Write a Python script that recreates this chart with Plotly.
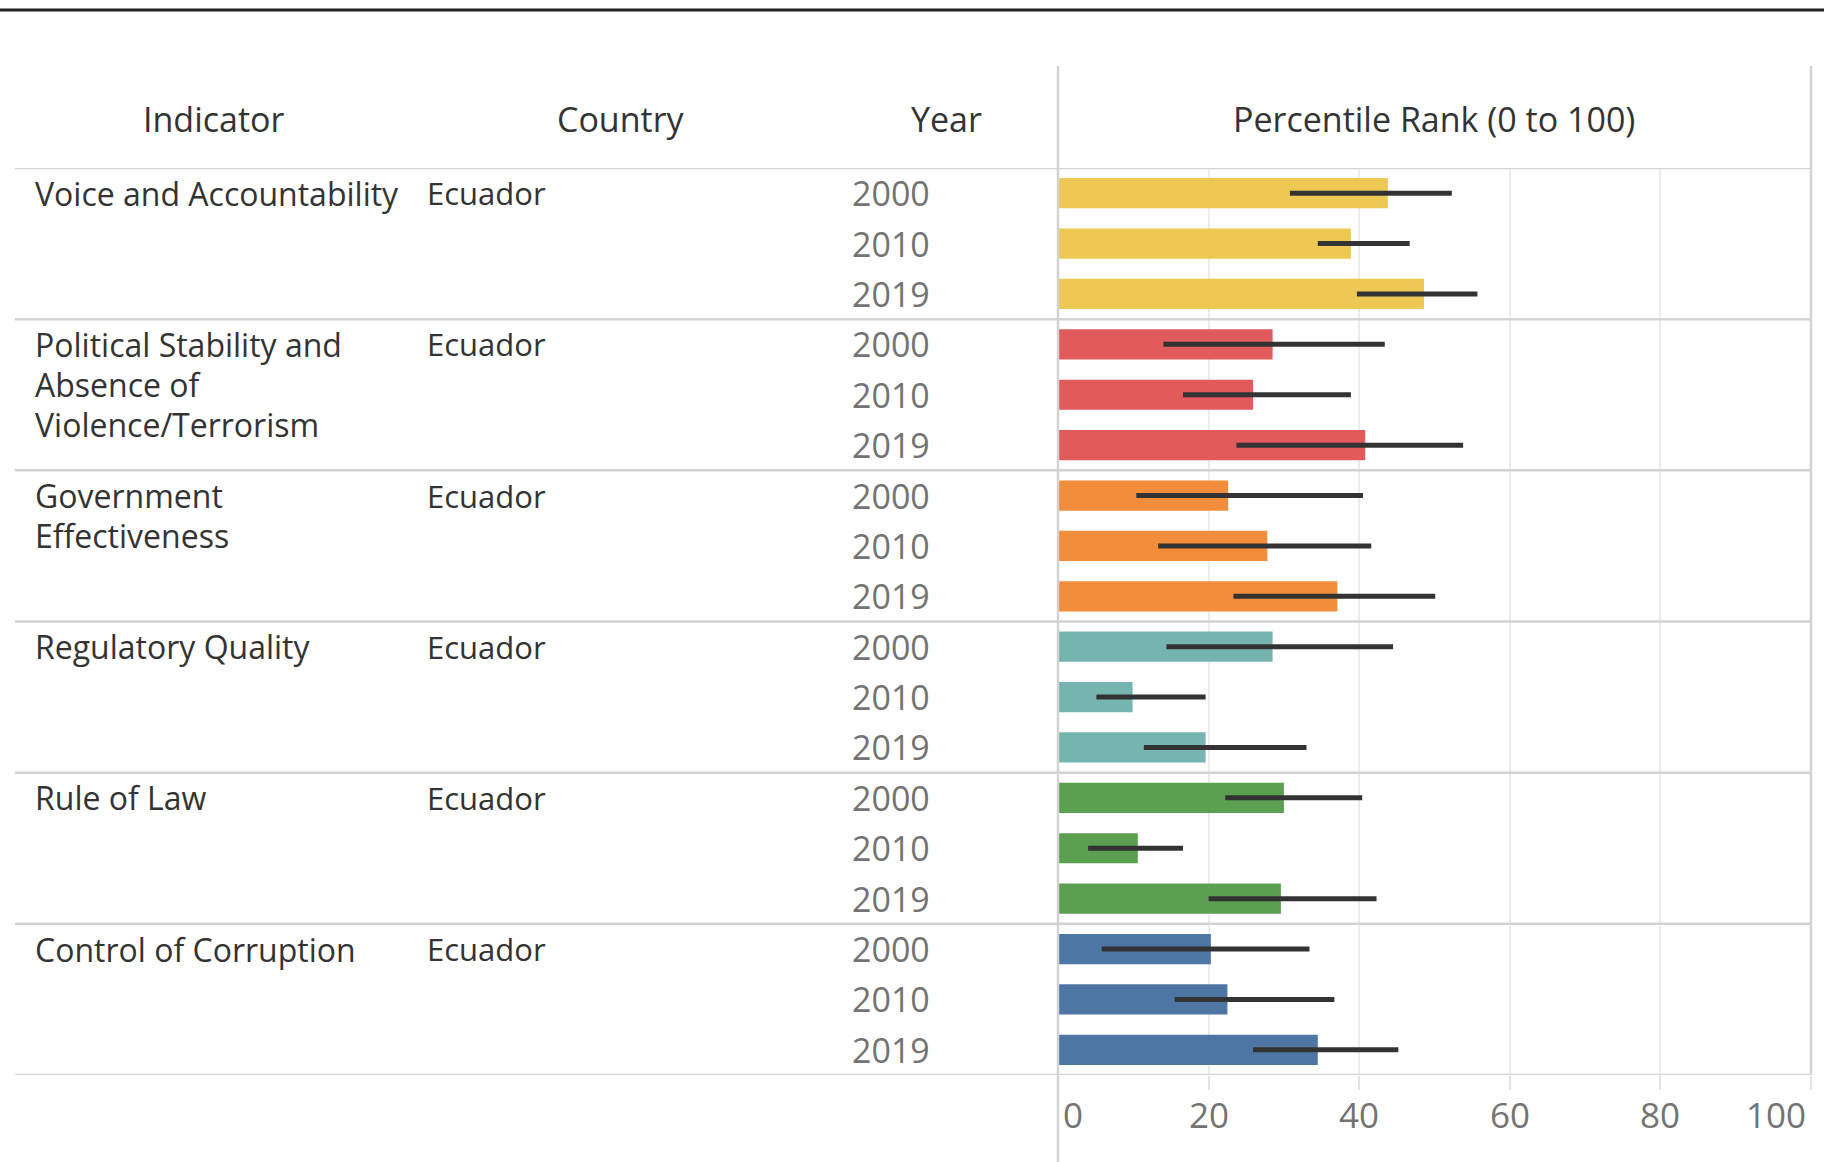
import plotly.graph_objects as go

W, H = 1824, 1162

indicators = [
    "Voice and Accountability",
    "Political Stability and<br>Absence of<br>Violence/Terrorism",
    "Government<br>Effectiveness",
    "Regulatory Quality",
    "Rule of Law",
    "Control of Corruption",
]
country = "Ecuador"
years = ["2000", "2010", "2019"]
colors = ["#EDC854", "#E15A5C", "#F28E3B", "#76B5AF", "#5AA050", "#4E76A5"]

# percentile rank and 90% interval bounds, per indicator x year
rank = [
    [43.8, 38.9, 48.6],
    [28.5, 25.9, 40.8],
    [22.6, 27.8, 37.1],
    [28.5, 9.9, 19.6],
    [30.0, 10.6, 29.6],
    [20.3, 22.5, 34.5],
]
lower = [
    [30.8, 34.5, 39.7],
    [14.0, 16.6, 23.7],
    [10.4, 13.3, 23.3],
    [14.4, 5.1, 11.4],
    [22.2, 4.0, 20.0],
    [5.8, 15.5, 25.9],
]
upper = [
    [52.3, 46.7, 55.7],
    [43.4, 38.9, 53.8],
    [40.5, 41.6, 50.1],
    [44.5, 19.6, 33.0],
    [40.4, 16.6, 42.3],
    [33.4, 36.7, 45.2],
]
tick_vals = [0, 20, 40, 60, 80, 100]

FONT = "Open Sans"
TXT = "#333333"
GREY = "#737373"
LINE = "#d3d3d3"

def px(x):
    return x / W

def py(y):
    return 1 - y / H

ys, xs, cols, ep, em = [], [], [], [], []
for g in range(len(indicators)):
    for k in range(len(years)):
        ys.append(g * 3 + k + 0.5)
        xs.append(rank[g][k])
        cols.append(colors[g])
        ep.append(upper[g][k] - rank[g][k])
        em.append(rank[g][k] - lower[g][k])

fig = go.Figure()
fig.add_trace(go.Bar(
    x=xs, y=ys, orientation="h", width=0.6,
    marker=dict(color=cols, line=dict(width=0)),
    error_x=dict(type="data", symmetric=False, array=ep, arrayminus=em,
                 color="#333333", thickness=5, width=0),
    hoverinfo="x",
))

x0, x1 = 1058, 1811
y0, y1 = 168, 1075
fig.update_layout(
    width=W, height=H, margin=dict(l=0, r=0, t=0, b=0),
    paper_bgcolor="white", plot_bgcolor="white", showlegend=False,
    font=dict(family=FONT, color=TXT),
    xaxis=dict(domain=[px(x0), px(x1)], range=[0, 100], tickvals=tick_vals,
               showticklabels=False, showgrid=True, gridcolor="#ececec", gridwidth=2,
               zeroline=False, ticks="outside", ticklen=14, tickcolor="#e4e4e4", tickwidth=2),
    yaxis=dict(domain=[py(y1), py(y0)], range=[18, 0], showticklabels=False,
               showgrid=False, zeroline=False),
)

shapes = []
# top black rule
shapes.append(dict(type="line", xref="paper", yref="paper", x0=0, x1=1, y0=py(10), y1=py(10),
                   line=dict(color="#222222", width=3)))
# horizontal separators
for r in range(0, 19, 3):
    shapes.append(dict(type="line", xref="paper", yref="y", x0=px(15), x1=px(x1), y0=r, y1=r,
                       line=dict(color=LINE, width=2.5)))
# vertical separator and right border
shapes.append(dict(type="line", xref="paper", yref="paper", x0=px(x0), x1=px(x0), y0=0, y1=py(66),
                   line=dict(color=LINE, width=2.5)))
shapes.append(dict(type="line", xref="paper", yref="paper", x0=px(x1), x1=px(x1), y0=py(y1), y1=py(66),
                   line=dict(color=LINE, width=2.5)))
fig.update_layout(shapes=shapes)

ann = []
hy = py(119)
for text, cx in [("Indicator", 213), ("Country", 621), ("Year", 946), ("Percentile Rank (0 to 100)", 1434)]:
    ann.append(dict(text=text, x=px(cx), y=hy, xref="paper", yref="paper", xanchor="center",
                    yanchor="middle", showarrow=False, font=dict(size=34, color=TXT)))
for g, name in enumerate(indicators):
    for i, line in enumerate(name.split("<br>")):
        ann.append(dict(text=line, x=px(33), y=g * 3 + 0.5 + i * 0.8, xref="paper", yref="y",
                        xanchor="left", yanchor="middle", showarrow=False, font=dict(size=32, color=TXT)))
    ann.append(dict(text=country, x=px(425), y=g * 3 + 0.5, xref="paper", yref="y",
                    xanchor="left", yanchor="middle", showarrow=False, font=dict(size=31, color=TXT)))
    for k, yr in enumerate(years):
        ann.append(dict(text=yr, x=px(932), y=g * 3 + k + 0.5, xref="paper", yref="y",
                        xanchor="right", yanchor="middle", showarrow=False, font=dict(size=34, color=GREY)))
for v in tick_vals:
    anchor = "left" if v == tick_vals[0] else ("right" if v == tick_vals[-1] else "center")
    xpos = x0 + (x1 - x0) * v / 100
    if anchor == "left":
        xpos += 3
    elif anchor == "right":
        xpos -= 3
    ann.append(dict(text=str(v), x=px(xpos), y=py(1114), xref="paper", yref="paper",
                    xanchor=anchor, yanchor="middle", showarrow=False, font=dict(size=35, color=GREY)))
fig.update_layout(annotations=ann)

fig.write_html("out.html", config={"displayModeBar": False},
               post_script="document.body.style.margin='0';document.body.style.overflow='hidden';")
